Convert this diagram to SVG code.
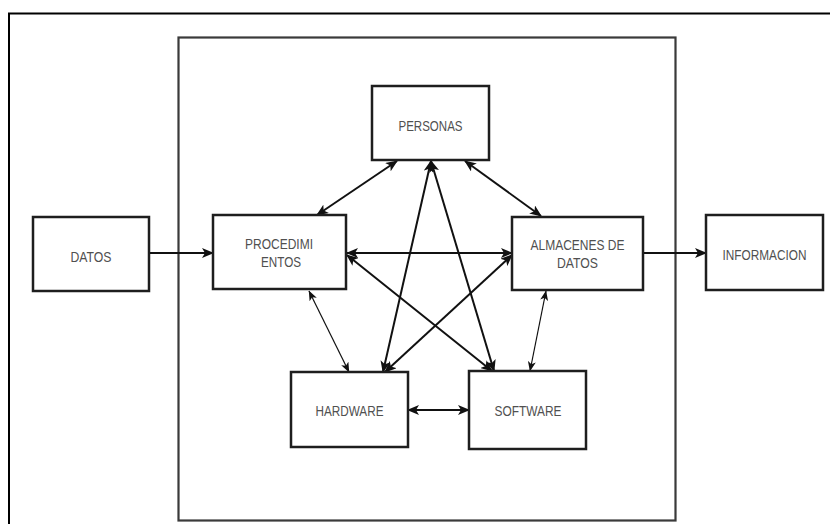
<svg xmlns="http://www.w3.org/2000/svg" width="830" height="524" viewBox="0 0 830 524">
<style>
.frame{fill:none;stroke:#000;stroke-width:2}
.container{fill:none;stroke:#3a3a3a;stroke-width:2.2}
.box{fill:#fff;stroke:#1e1e1e;stroke-width:2.5}
.lbl{font-family:"Liberation Sans",Arial,sans-serif;font-size:15px;fill:#505050;text-anchor:middle}
.c{fill:none;stroke:#111;stroke-width:2}
.t{fill:none;stroke:#111;stroke-width:1.2}
</style>
<defs>
<marker id="ah" viewBox="0 0 12 10" refX="11" refY="5" markerWidth="12" markerHeight="10" markerUnits="userSpaceOnUse" orient="auto-start-reverse">
<path d="M0,0 L12,5 L0,10 L3,5 z" fill="#111"/>
</marker>
<marker id="ahs" viewBox="0 0 10 8" refX="9.5" refY="4" markerWidth="10" markerHeight="8" markerUnits="userSpaceOnUse" orient="auto-start-reverse">
<path d="M0,0 L10,4 L0,8 L2.5,4 z" fill="#111"/>
</marker>
</defs>
<rect x="0" y="0" width="830" height="524" fill="#fff"/>
<path class="frame" d="M9,524 L9,13.5 L830,13.5"/>
<rect id="sistema" class="container" x="178.5" y="37.5" width="497" height="483"/>

<g id="connectors">
<line class="c" x1="150" y1="253" x2="213" y2="253" marker-end="url(#ah)"/>
<line class="c" x1="643" y1="253" x2="706" y2="253" marker-end="url(#ah)"/>
<line class="c" x1="347" y1="253" x2="512" y2="253" marker-start="url(#ah)" marker-end="url(#ah)"/>
<line class="c" x1="317" y1="215" x2="397" y2="161" marker-start="url(#ah)" marker-end="url(#ah)"/>
<line class="c" x1="465" y1="161" x2="541" y2="216" marker-start="url(#ah)" marker-end="url(#ah)"/>
<line class="c" x1="431" y1="161" x2="383" y2="372" marker-start="url(#ah)" marker-end="url(#ah)"/>
<line class="c" x1="431" y1="161" x2="494" y2="371" marker-start="url(#ah)" marker-end="url(#ah)"/>
<line class="c" x1="347" y1="255" x2="492" y2="371" marker-start="url(#ah)" marker-end="url(#ah)"/>
<line class="c" x1="512" y1="255" x2="385" y2="372" marker-start="url(#ah)" marker-end="url(#ah)"/>
<line class="t" x1="309" y1="291" x2="349" y2="372" marker-start="url(#ahs)" marker-end="url(#ahs)"/>
<line class="t" x1="546" y1="291" x2="530" y2="371" marker-start="url(#ahs)" marker-end="url(#ahs)"/>
<line class="c" x1="408" y1="410" x2="469" y2="410" marker-start="url(#ah)" marker-end="url(#ah)"/>
</g>

<g id="datos">
<rect class="box" x="33" y="217" width="116" height="74"/>
<text class="lbl" x="91" y="261.5" textLength="41" lengthAdjust="spacingAndGlyphs">DATOS</text>
</g>
<g id="procedimientos">
<rect class="box" x="213" y="215" width="133" height="74"/>
<text class="lbl" x="279" y="249" textLength="68" lengthAdjust="spacingAndGlyphs">PROCEDIMI</text>
<text class="lbl" x="281" y="267" textLength="40" lengthAdjust="spacingAndGlyphs">ENTOS</text>
</g>
<g id="personas">
<rect class="box" x="372" y="86" width="117" height="74"/>
<text class="lbl" x="430.5" y="131" textLength="64" lengthAdjust="spacingAndGlyphs">PERSONAS</text>
</g>
<g id="almacenes">
<rect class="box" x="512" y="217" width="131" height="73"/>
<text class="lbl" x="577.5" y="249.5" textLength="94" lengthAdjust="spacingAndGlyphs">ALMACENES DE</text>
<text class="lbl" x="577.5" y="268" textLength="41" lengthAdjust="spacingAndGlyphs">DATOS</text>
</g>
<g id="informacion">
<rect class="box" x="706" y="215" width="117" height="75"/>
<text class="lbl" x="764.5" y="260" textLength="84" lengthAdjust="spacingAndGlyphs">INFORMACION</text>
</g>
<g id="hardware">
<rect class="box" x="291" y="372" width="117" height="75"/>
<text class="lbl" x="349.5" y="416" textLength="68" lengthAdjust="spacingAndGlyphs">HARDWARE</text>
</g>
<g id="software">
<rect class="box" x="469" y="371" width="117" height="78"/>
<text class="lbl" x="528" y="416" textLength="67" lengthAdjust="spacingAndGlyphs">SOFTWARE</text>
</g>
</svg>
